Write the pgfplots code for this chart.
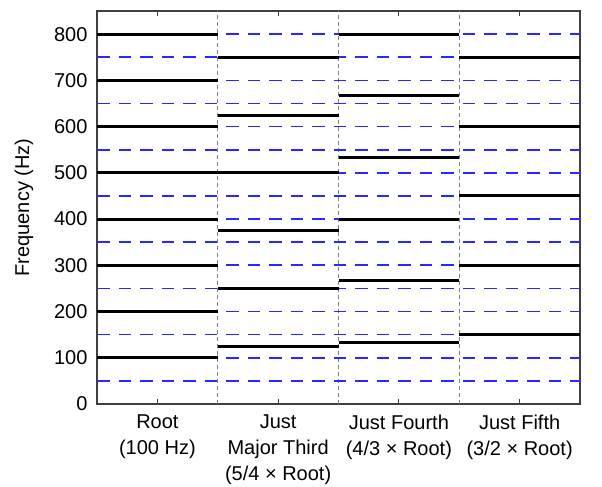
\documentclass[border=0pt]{standalone}
\usepackage{pgfplots}
\pgfplotsset{compat=1.18}
\usepackage{fontspec}
\setmainfont{Liberation Sans}
\definecolor{axgray}{RGB}{64,64,64}
\definecolor{dblue}{RGB}{40,40,255}
\begin{document}
\begin{tikzpicture}
\useasboundingbox (0,0) rectangle (602bp,487bp);
\begin{axis}[
  at={(97bp,83bp)}, anchor=south west,
  scale only axis, width=483bp, height=393bp,
  xmin=0, xmax=4, ymin=0, ymax=850,
  axis line style={axgray, line width=1.3bp},
  ytick={0,100,...,800},
  xtick={0.5,1.5,2.5,3.5},
  xticklabels={{Root\\(100 Hz)},{Just\\Major Third\\(5/4 × Root)},{Just Fourth\\(4/3 × Root)},{Just Fifth\\(3/2 × Root)}},
  xticklabel style={align=center, font=\fontsize{20bp}{26bp}\selectfont, anchor=north, yshift=-7bp},
  yticklabel style={font=\fontsize{20bp}{24bp}\selectfont, xshift=-6bp},
  /pgf/number format/assume math mode=true,
  tick align=inside,
  major tick length=5bp,
  tick style={axgray, line width=1bp},
  ylabel={Frequency (Hz)},
  every axis y label/.style={at={(rel axis cs:0,0.5)}, anchor=center, xshift=-73bp, rotate=90, font=\fontsize{20bp}{24bp}\selectfont},
  extra x ticks={1,2,3},
  extra x tick labels={},
  extra x tick style={xmajorgrids=true, ymajorgrids=false, major tick length=0pt, major grid style={gray, line width=0.9bp, dash pattern=on 4bp off 3bp}},
  refline/.style={dblue, line width=1.7bp, dash pattern=on 12.5bp off 9bp, forget plot},
  harm/.style={black, line width=3bp, forget plot},
]
% blue dashed reference lines every 50 Hz
\addplot[refline] coordinates {(0,50) (4,50)};
\addplot[refline] coordinates {(0,100) (4,100)};
\addplot[refline] coordinates {(0,150) (4,150)};
\addplot[refline] coordinates {(0,200) (4,200)};
\addplot[refline] coordinates {(0,250) (4,250)};
\addplot[refline] coordinates {(0,300) (4,300)};
\addplot[refline] coordinates {(0,350) (4,350)};
\addplot[refline] coordinates {(0,400) (4,400)};
\addplot[refline] coordinates {(0,450) (4,450)};
\addplot[refline] coordinates {(0,500) (4,500)};
\addplot[refline] coordinates {(0,550) (4,550)};
\addplot[refline] coordinates {(0,600) (4,600)};
\addplot[refline] coordinates {(0,650) (4,650)};
\addplot[refline] coordinates {(0,700) (4,700)};
\addplot[refline] coordinates {(0,750) (4,750)};
\addplot[refline] coordinates {(0,800) (4,800)};
% Root harmonics
\addplot[harm] coordinates {(0,100) (1,100)};
\addplot[harm] coordinates {(0,200) (1,200)};
\addplot[harm] coordinates {(0,300) (1,300)};
\addplot[harm] coordinates {(0,400) (1,400)};
\addplot[harm] coordinates {(0,500) (1,500)};
\addplot[harm] coordinates {(0,600) (1,600)};
\addplot[harm] coordinates {(0,700) (1,700)};
\addplot[harm] coordinates {(0,800) (1,800)};
% Just major third harmonics
\addplot[harm] coordinates {(1,125) (2,125)};
\addplot[harm] coordinates {(1,250) (2,250)};
\addplot[harm] coordinates {(1,375) (2,375)};
\addplot[harm] coordinates {(1,500) (2,500)};
\addplot[harm] coordinates {(1,625) (2,625)};
\addplot[harm] coordinates {(1,750) (2,750)};
% Just fourth harmonics
\addplot[harm] coordinates {(2,133.33) (3,133.33)};
\addplot[harm] coordinates {(2,266.67) (3,266.67)};
\addplot[harm] coordinates {(2,400) (3,400)};
\addplot[harm] coordinates {(2,533.33) (3,533.33)};
\addplot[harm] coordinates {(2,666.67) (3,666.67)};
\addplot[harm] coordinates {(2,800) (3,800)};
% Just fifth harmonics
\addplot[harm] coordinates {(3,150) (4,150)};
\addplot[harm] coordinates {(3,300) (4,300)};
\addplot[harm] coordinates {(3,450) (4,450)};
\addplot[harm] coordinates {(3,600) (4,600)};
\addplot[harm] coordinates {(3,750) (4,750)};
\end{axis}
\end{tikzpicture}
\end{document}
